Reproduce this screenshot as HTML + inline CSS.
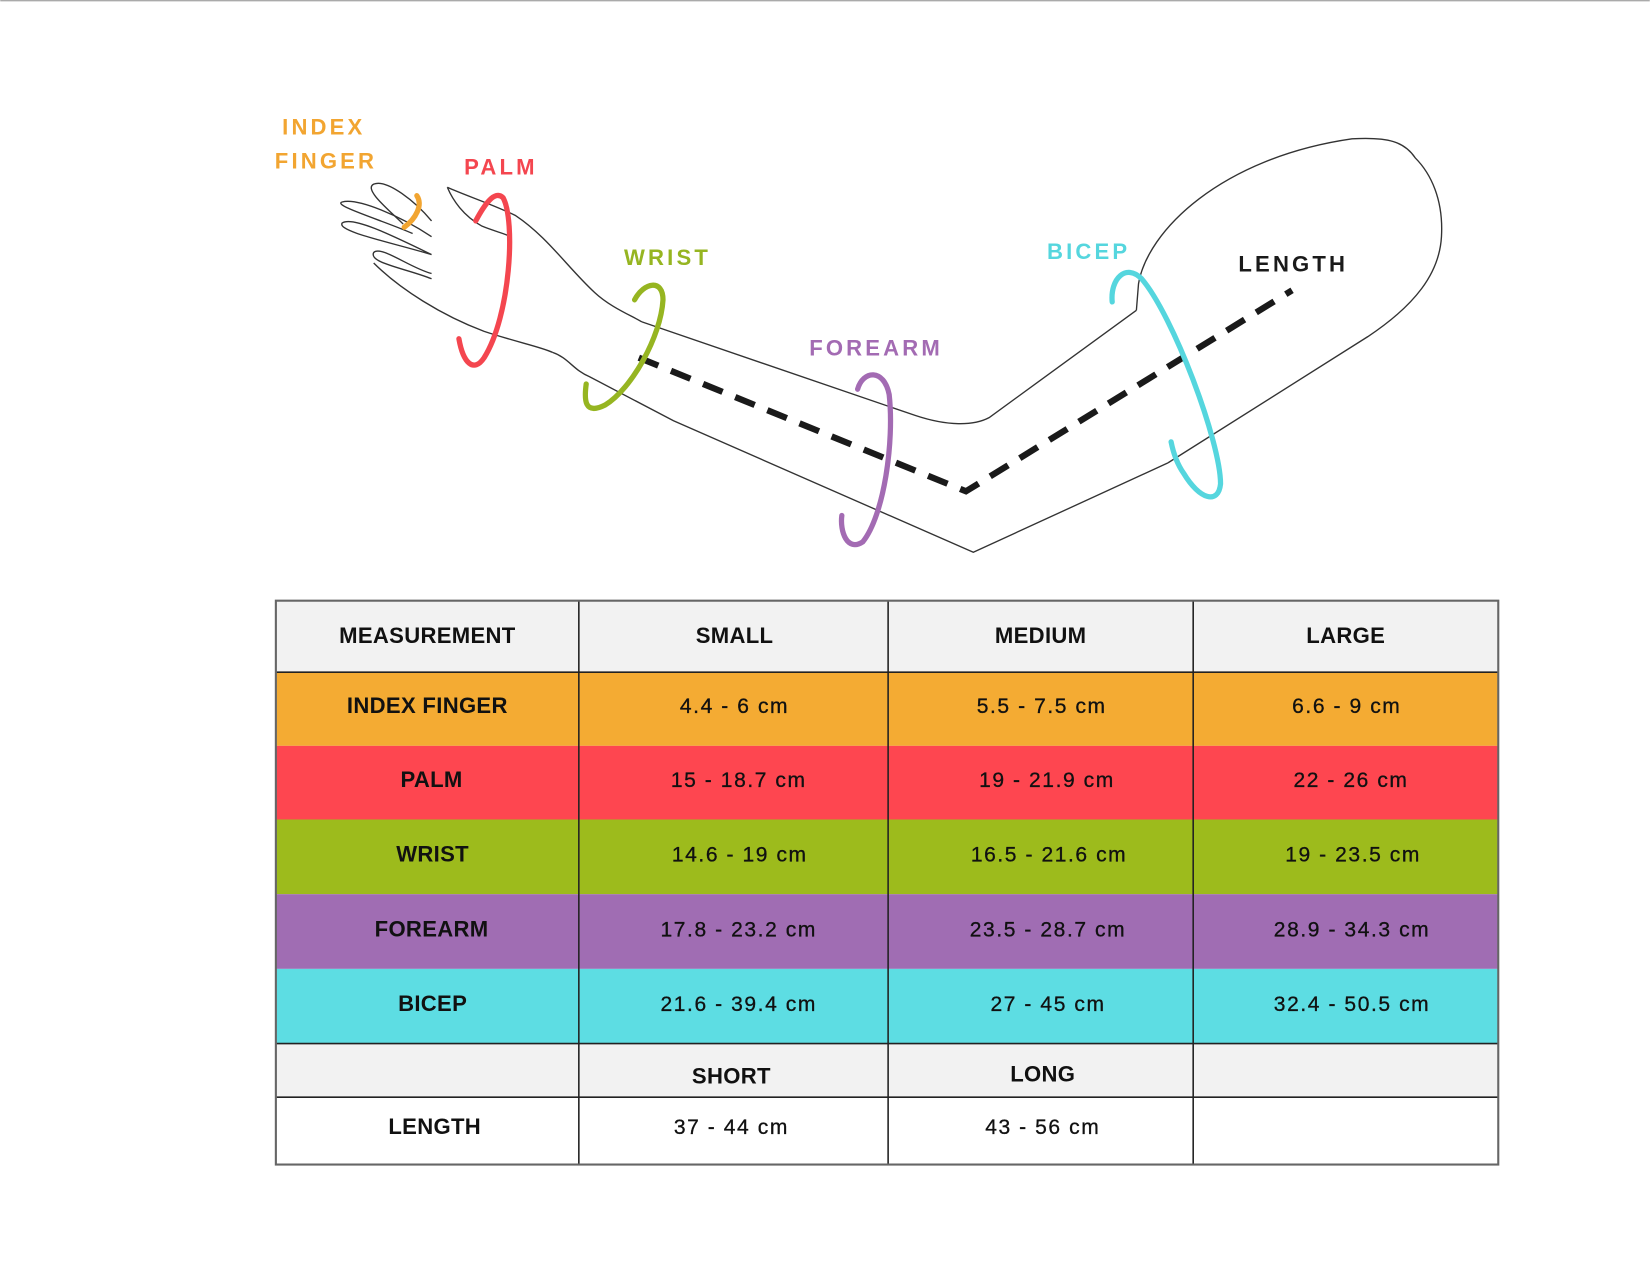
<!DOCTYPE html>
<html><head><meta charset="utf-8"><style>
html,body{margin:0;padding:0;background:#fff;}
svg{display:block;}
.lbl{font-family:"Liberation Sans",sans-serif;font-weight:bold;font-size:21px;letter-spacing:3px;}
.h{font-family:"Liberation Sans Narrow","Liberation Sans",sans-serif;font-weight:bold;font-size:21px;letter-spacing:0.3px;fill:#111;}
.v{font-family:"Liberation Sans",sans-serif;font-size:20px;letter-spacing:1.5px;fill:#111;stroke:#111;stroke-width:0.3px;}
</style></head><body>
<svg width="1650" height="1275" viewBox="0 0 1568 1212" xmlns="http://www.w3.org/2000/svg">
<line x1="0" y1="0.5" x2="1568" y2="0.5" stroke="#aaa" stroke-width="1.5"/>
<g fill="none" stroke="#333" stroke-width="1.3">
<path d="M383,213 C370,200 345,180 355,175 C368,170 395,192 410,210"/>
<path d="M392,222 C365,210 315,195 325,192 C340,188 380,205 410,225"/>
<path d="M410,242 C370,230 320,220 325,212 C335,205 375,225 410,242"/>
<path d="M410,265 C385,255 350,250 355,240 C362,233 390,255 410,260"/>
<path d="M355,250 C380,275 420,300 460,315 C490,325 515,330 525,335"/>
<path d="M425,178 C430,190 440,205 458,215 C470,220 480,222 485,225"/>
<path d="M425,178 C440,185 470,195 490,205 C520,225 540,255 565,278 C580,292 600,300 610,306"/>
<path d="M610,306 L870,395 C900,405 925,405 940,397 L1080,295"/>
<path d="M525,335 C540,340 545,352 560,358 L640,400 L925,525 L1110,440"/>
<path d="M1080,295 L1082,270 C1090,220 1160,150 1285,132 C1320,130 1335,135 1345,150 C1360,165 1372,190 1370,225 C1368,260 1345,290 1300,320 L1110,440"/>
</g>
<polyline points="607,340 918,467 1228,276" fill="none" stroke="#1a1a1a" stroke-width="6" stroke-dasharray="20,13"/>
<g fill="none" stroke-width="5" stroke-linecap="round">
<path d="M396,186 C402,195 395,208 384,216" stroke="#f2a531"/>
<path d="M452,210 C460,195 470,180 478,188 C490,210 485,300 460,340 C450,355 440,345 436,322" stroke="#f4464f"/>
<path d="M603,285 C612,268 630,265 630,285 C628,320 600,370 575,385 C555,395 555,380 557,365" stroke="#96b521"/>
<path d="M815,370 C820,352 840,350 845,375 C850,420 840,490 820,515 C805,525 798,505 800,490" stroke="#a36bb3"/>
<path d="M1057,287 C1055,265 1070,250 1085,265 C1115,300 1160,420 1160,460 C1158,480 1140,475 1125,450 C1118,440 1115,430 1113,420" stroke="#55d6de"/>
</g>
<text class="lbl" x="268" y="128" fill="#f2a531">INDEX</text>
<text class="lbl" x="261" y="160" fill="#f2a531">FINGER</text>
<text class="lbl" x="441" y="166" fill="#f4464f">PALM</text>
<text class="lbl" x="593" y="252" fill="#96b521">WRIST</text>
<text class="lbl" x="769" y="338" fill="#a36bb3">FOREARM</text>
<text class="lbl" x="995" y="246" fill="#55d6de">BICEP</text>
<text class="lbl" x="1177" y="258" fill="#1a1a1a">LENGTH</text>
<rect x="262" y="571" width="1162" height="68" fill="#f2f2f2"/>
<rect x="262" y="639" width="1162" height="70" fill="#f4ab33"/>
<rect x="262" y="709" width="1162" height="70" fill="#fe4650"/>
<rect x="262" y="779" width="1162" height="71" fill="#9dbb1c"/>
<rect x="262" y="850" width="1162" height="71" fill="#a06db3"/>
<rect x="262" y="921" width="1162" height="71" fill="#5ddde3"/>
<rect x="262" y="992" width="1162" height="51" fill="#f2f2f2"/>
<rect x="262" y="1043" width="1162" height="64" fill="#fff"/>
<g stroke="#222" stroke-width="1.5">
<line x1="262" y1="639" x2="1424" y2="639"/>
<line x1="262" y1="992" x2="1424" y2="992"/>
<line x1="262" y1="1043" x2="1424" y2="1043"/>
<line x1="550" y1="571" x2="550" y2="1107"/>
<line x1="844" y1="571" x2="844" y2="1107"/>
<line x1="1134" y1="571" x2="1134" y2="1107"/>
</g>
<rect x="262" y="571" width="1162" height="536" fill="none" stroke="#666" stroke-width="2"/>
<g text-anchor="middle">
<text class="h" x="406" y="611">MEASUREMENT</text>
<text class="h" x="698" y="611">SMALL</text>
<text class="h" x="989" y="611">MEDIUM</text>
<text class="h" x="1279" y="611">LARGE</text>
<text class="h" x="406" y="678">INDEX FINGER</text>
<text class="v" x="698" y="678">4.4 - 6 cm</text>
<text class="v" x="990" y="678">5.5 - 7.5 cm</text>
<text class="v" x="1280" y="678">6.6 - 9 cm</text>
<text class="h" x="410" y="748">PALM</text>
<text class="v" x="702" y="748">15 - 18.7 cm</text>
<text class="v" x="995" y="748">19 - 21.9 cm</text>
<text class="v" x="1284" y="748">22 - 26 cm</text>
<text class="h" x="411" y="819">WRIST</text>
<text class="v" x="703" y="819">14.6 - 19 cm</text>
<text class="v" x="997" y="819">16.5 - 21.6 cm</text>
<text class="v" x="1286" y="819">19 - 23.5 cm</text>
<text class="h" x="410" y="890">FOREARM</text>
<text class="v" x="702" y="890">17.8 - 23.2 cm</text>
<text class="v" x="996" y="890">23.5 - 28.7 cm</text>
<text class="v" x="1285" y="890">28.9 - 34.3 cm</text>
<text class="h" x="411" y="961">BICEP</text>
<text class="v" x="702" y="961">21.6 - 39.4 cm</text>
<text class="v" x="996" y="961">27 - 45 cm</text>
<text class="v" x="1285" y="961">32.4 - 50.5 cm</text>
<text class="h" x="695" y="1030">SHORT</text>
<text class="h" x="991" y="1028">LONG</text>
<text class="h" x="413" y="1078">LENGTH</text>
<text class="v" x="695" y="1078">37 - 44 cm</text>
<text class="v" x="991" y="1078">43 - 56 cm</text>
</g>
</svg>
</body></html>
